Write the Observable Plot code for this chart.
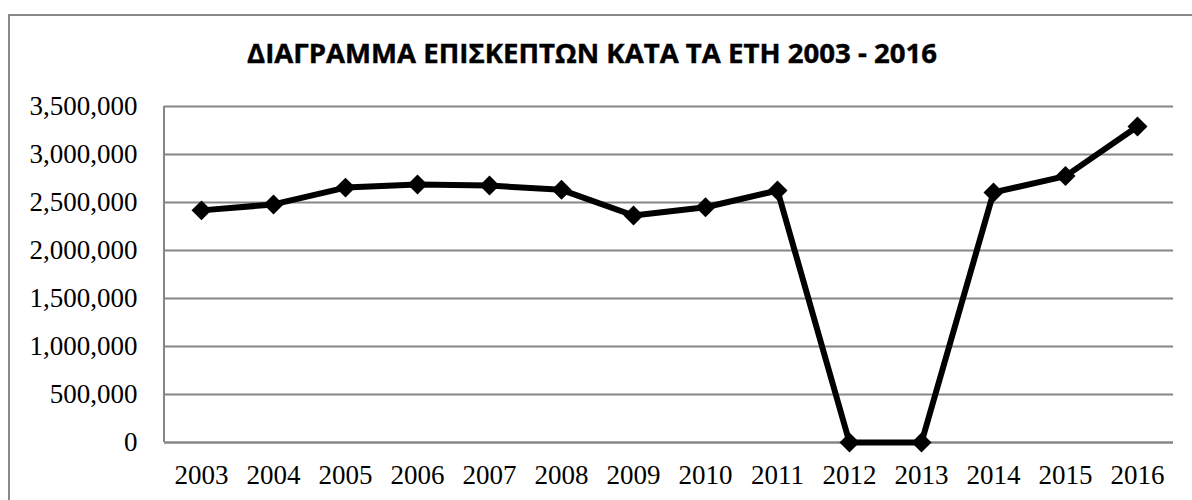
<!DOCTYPE html>
<html>
<head>
<meta charset="utf-8">
<script src="https://cdn.jsdelivr.net/npm/d3@7"></script>
<script src="https://cdn.jsdelivr.net/npm/@observablehq/plot@0.6"></script>
<style>
  html, body { margin: 0; padding: 0; background: #fff; overflow: hidden; }
  #wrap { position: relative; width: 1192px; height: 500px; }
  #border { position: absolute; left: 8px; top: 14px; width: 1300px; height: 600px;
            border-left: 2px solid #898989; border-top: 2px solid #898989; box-sizing: border-box; }
  #title { position: absolute; left: 0; top: 0; }
  #chart { position: absolute; left: 0; top: 90px; }
</style>
</head>
<body>
<div id="wrap">
  <div id="border"></div>
  <svg id="title" width="1192" height="90">
    <text id="titleText" x="592" y="63" text-anchor="middle" font-family="'Open Sans', 'Liberation Sans', sans-serif"
          font-weight="bold" font-size="26" fill="#000" stroke="#000" stroke-width="0.4" textLength="690" lengthAdjust="spacingAndGlyphs">ΔΙΑΓΡΑΜΜΑ ΕΠΙΣΚΕΠΤΩΝ ΚΑΤΑ ΤΑ ΕΤΗ 2003 - 2016</text>
  </svg>
  <div id="chart"></div>
</div>
<script>
const years = ["2003","2004","2005","2006","2007","2008","2009","2010","2011","2012","2013","2014","2015","2016"];
const visitors = [2418000, 2480000, 2655000, 2687000, 2676000, 2632000, 2365000, 2451000, 2625000, 0, 0, 2605000, 2775000, 3292000];
const yTicks = [0, 500000, 1000000, 1500000, 2000000, 2500000, 3000000, 3500000];

const data = years.map((y, i) => ({year: y, value: visitors[i]}));
const gray = "#868686";

const leftLine = (index, scales, values, dimensions) => {
  const g = d3.create("svg:g");
  g.append("line")
    .attr("x1", dimensions.marginLeft).attr("x2", dimensions.marginLeft)
    .attr("y1", dimensions.marginTop).attr("y2", dimensions.height - dimensions.marginBottom)
    .attr("stroke", gray).attr("stroke-width", 2);
  return g.node();
};

const chart = Plot.plot({
  width: 1192,
  height: 410,
  marginLeft: 164,
  marginRight: 19,
  marginTop: 16,
  marginBottom: 58,
  style: { fontFamily: "'Liberation Serif', serif", fontSize: "27px", color: "#000", background: "transparent" },
  x: { type: "point", domain: years, padding: 0.5, label: null },
  y: { domain: [0, 3500000], label: null },
  marks: [
    Plot.gridY(yTicks, { stroke: gray, strokeOpacity: 1, strokeWidth: 2 }),
    Plot.axisY(yTicks, { tickSize: 0, tickPadding: 27, tickFormat: d3.format(","), fontSize: 27, label: null }),
    Plot.axisX({ tickSize: 0, tickPadding: 22, fontSize: 27, label: null }),
    leftLine,
    Plot.ruleY([0], { stroke: gray, strokeWidth: 2 }),
    Plot.line(data, { x: "year", y: "value", stroke: "#000", strokeWidth: 6, strokeLinejoin: "round" }),
    Plot.dot(data, { x: "year", y: "value", symbol: "diamond2", r: 9, fill: "#000", stroke: "none" })
  ]
});
document.getElementById("chart").appendChild(chart);
</script>
</body>
</html>
